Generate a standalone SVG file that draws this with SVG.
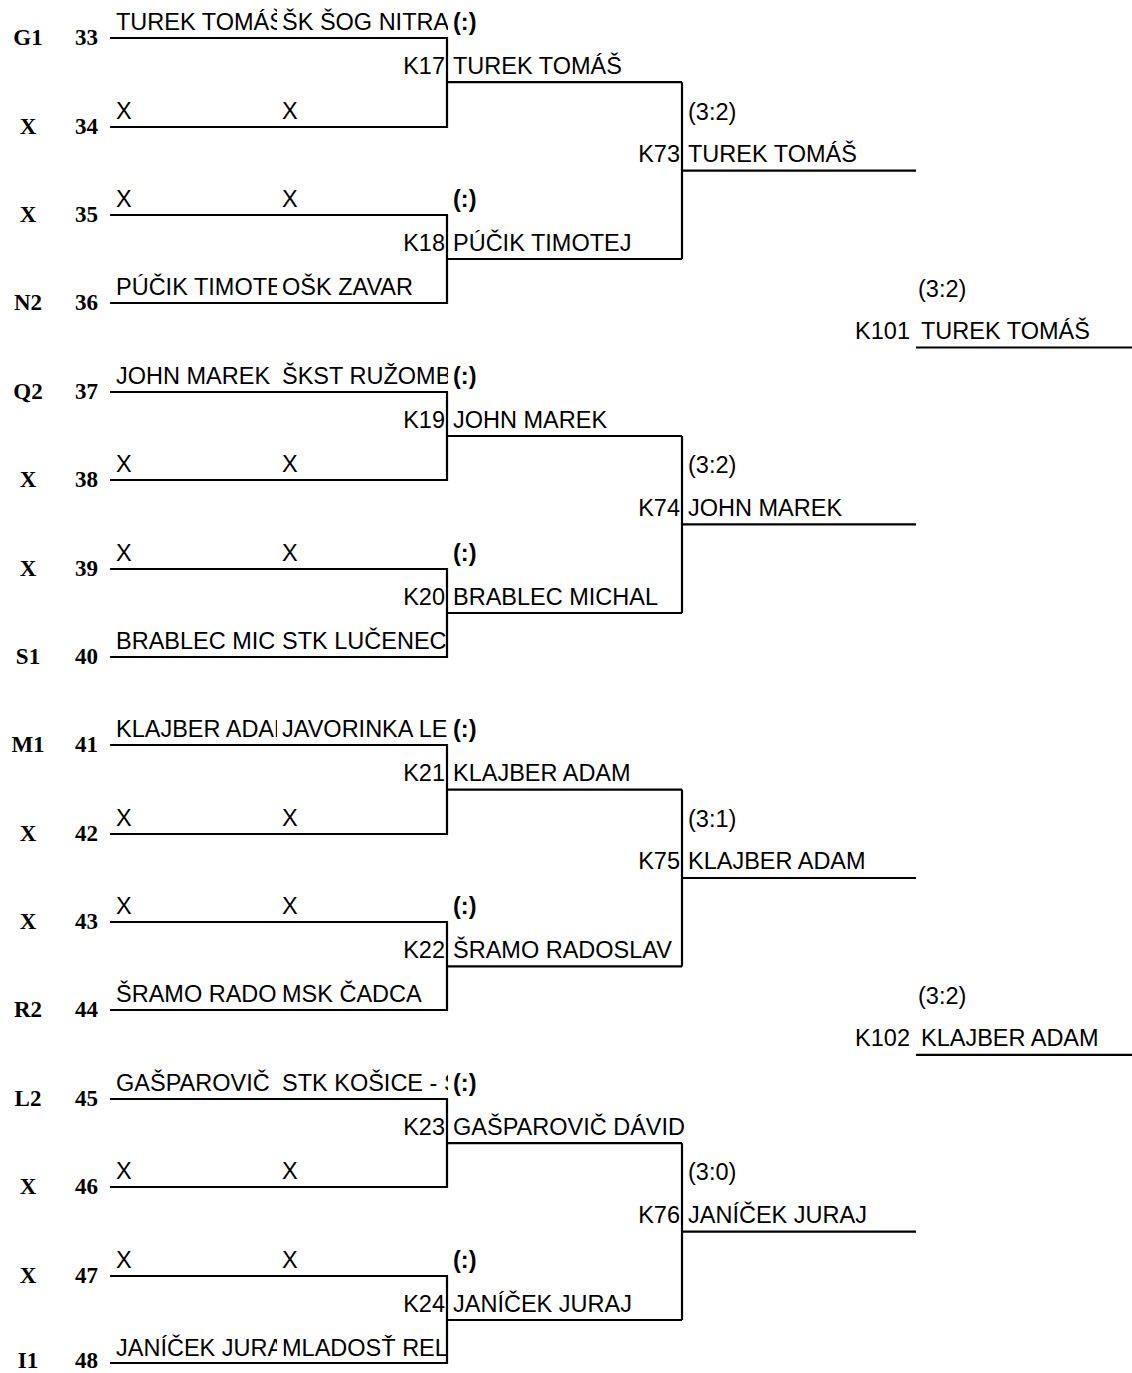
<svg xmlns="http://www.w3.org/2000/svg" width="1132" height="1373" viewBox="0 0 1132 1373">
<style>
.ln{stroke:#000;stroke-width:2.2;fill:none}
.t{font-family:"Liberation Sans",Arial,sans-serif;font-size:23.5px;fill:#000}
.b{font-family:"Liberation Sans",Arial,sans-serif;font-size:23.5px;font-weight:bold;fill:#000}
.k{font-family:"Liberation Sans",Arial,sans-serif;font-size:23.5px;fill:#000;text-anchor:end}
.s{font-family:"Liberation Serif","Times New Roman",serif;font-size:23px;font-weight:bold;fill:#000}
.c{text-anchor:middle}
.e{text-anchor:end}
</style>
<defs>
<clipPath id="c1"><rect x="110" y="0" width="167" height="1373"/></clipPath>
<clipPath id="c2"><rect x="280" y="0" width="168" height="1373"/></clipPath>
</defs>
<rect width="1132" height="1373" fill="#fff"/>
<g id="connectors">
<path class="ln" d="M110 38H447V127H110M447 82.2H682M110 215H447V303H110M447 259H682M682 82.2V259M682 170.6H916"/>
<path class="ln" d="M110 392H447V480H110M447 436H682M110 569H447V657H110M447 613H682M682 436V613M682 524.4H916"/>
<path class="ln" d="M110 745H447V834H110M447 789.6H682M110 922H447V1010H110M447 966.4H682M682 789.6V966.4M682 878H916"/>
<path class="ln" d="M110 1099H447V1187H110M447 1143.2H682M110 1276H447V1363H110M447 1320H682M682 1143.2V1320M682 1231.6H916"/>
<path class="ln" d="M916 347.5H1132M916 1054.8H1132"/>
</g>
<g id="seeds">
<text class="s c" x="28" y="45">G1</text><text class="s e" x="98" y="45">33</text>
<text class="s c" x="28" y="134">X</text><text class="s e" x="98" y="134">34</text>
<text class="s c" x="28" y="222">X</text><text class="s e" x="98" y="222">35</text>
<text class="s c" x="28" y="310">N2</text><text class="s e" x="98" y="310">36</text>
<text class="s c" x="28" y="399">Q2</text><text class="s e" x="98" y="399">37</text>
<text class="s c" x="28" y="487">X</text><text class="s e" x="98" y="487">38</text>
<text class="s c" x="28" y="576">X</text><text class="s e" x="98" y="576">39</text>
<text class="s c" x="28" y="664">S1</text><text class="s e" x="98" y="664">40</text>
<text class="s c" x="28" y="752">M1</text><text class="s e" x="98" y="752">41</text>
<text class="s c" x="28" y="841">X</text><text class="s e" x="98" y="841">42</text>
<text class="s c" x="28" y="929">X</text><text class="s e" x="98" y="929">43</text>
<text class="s c" x="28" y="1017">R2</text><text class="s e" x="98" y="1017">44</text>
<text class="s c" x="28" y="1106">L2</text><text class="s e" x="98" y="1106">45</text>
<text class="s c" x="28" y="1194">X</text><text class="s e" x="98" y="1194">46</text>
<text class="s c" x="28" y="1283">X</text><text class="s e" x="98" y="1283">47</text>
<text class="s c" x="28" y="1368">I1</text><text class="s e" x="98" y="1368">48</text>
</g>
<g id="players" clip-path="url(#c1)">
<text class="t" x="116" y="30">TUREK TOMÁŠ</text>
<text class="t" x="116" y="119">X</text>
<text class="t" x="116" y="207">X</text>
<text class="t" x="116" y="295">PÚČIK TIMOTEJ</text>
<text class="t" x="116" y="384">JOHN MAREK</text>
<text class="t" x="116" y="472">X</text>
<text class="t" x="116" y="561">X</text>
<text class="t" x="116" y="649">BRABLEC MICHAL</text>
<text class="t" x="116" y="737">KLAJBER ADAM</text>
<text class="t" x="116" y="826">X</text>
<text class="t" x="116" y="914">X</text>
<text class="t" x="116" y="1002">ŠRAMO RADOSLAV</text>
<text class="t" x="116" y="1091">GAŠPAROVIČ DÁVID</text>
<text class="t" x="116" y="1179">X</text>
<text class="t" x="116" y="1268">X</text>
<text class="t" x="116" y="1356">JANÍČEK JURAJ</text>
</g>
<g id="clubs" clip-path="url(#c2)">
<text class="t" x="282" y="30">ŠK ŠOG NITRA</text>
<text class="t" x="282" y="119">X</text>
<text class="t" x="282" y="207">X</text>
<text class="t" x="282" y="295">OŠK ZAVAR</text>
<text class="t" x="282" y="384">ŠKST RUŽOMB</text>
<text class="t" x="282" y="472">X</text>
<text class="t" x="282" y="561">X</text>
<text class="t" x="282" y="649">STK LUČENEC</text>
<text class="t" x="282" y="737">JAVORINKA LE</text>
<text class="t" x="282" y="826">X</text>
<text class="t" x="282" y="914">X</text>
<text class="t" x="282" y="1002">MSK ČADCA</text>
<text class="t" x="282" y="1091">STK KOŠICE - Š</text>
<text class="t" x="282" y="1179">X</text>
<text class="t" x="282" y="1268">X</text>
<text class="t" x="282" y="1356">MLADOSŤ REL</text>
</g>
<g id="round2">
<text class="b" x="453" y="30">(:)</text>
<text class="k" x="445" y="74">K17</text><text class="t" x="453" y="74">TUREK TOMÁŠ</text>
<text class="b" x="453" y="207">(:)</text>
<text class="k" x="445" y="251">K18</text><text class="t" x="453" y="251">PÚČIK TIMOTEJ</text>
<text class="b" x="453" y="384">(:)</text>
<text class="k" x="445" y="428">K19</text><text class="t" x="453" y="428">JOHN MAREK</text>
<text class="b" x="453" y="561">(:)</text>
<text class="k" x="445" y="605">K20</text><text class="t" x="453" y="605">BRABLEC MICHAL</text>
<text class="b" x="453" y="737">(:)</text>
<text class="k" x="445" y="781">K21</text><text class="t" x="453" y="781">KLAJBER ADAM</text>
<text class="b" x="453" y="914">(:)</text>
<text class="k" x="445" y="958">K22</text><text class="t" x="453" y="958">ŠRAMO RADOSLAV</text>
<text class="b" x="453" y="1091">(:)</text>
<text class="k" x="445" y="1135">K23</text><text class="t" x="453" y="1135">GAŠPAROVIČ DÁVID</text>
<text class="b" x="453" y="1268">(:)</text>
<text class="k" x="445" y="1312">K24</text><text class="t" x="453" y="1312">JANÍČEK JURAJ</text>
</g>
<g id="round3">
<text class="t" x="688" y="120">(3:2)</text>
<text class="k" x="680" y="162">K73</text><text class="t" x="688" y="162">TUREK TOMÁŠ</text>
<text class="t" x="688" y="473">(3:2)</text>
<text class="k" x="680" y="516">K74</text><text class="t" x="688" y="516">JOHN MAREK</text>
<text class="t" x="688" y="827">(3:1)</text>
<text class="k" x="680" y="869">K75</text><text class="t" x="688" y="869">KLAJBER ADAM</text>
<text class="t" x="688" y="1180">(3:0)</text>
<text class="k" x="680" y="1223">K76</text><text class="t" x="688" y="1223">JANÍČEK JURAJ</text>
</g>
<g id="final">
<text class="t" x="918" y="297">(3:2)</text>
<text class="k" x="910" y="339">K101</text><text class="t" x="921" y="339">TUREK TOMÁŠ</text>
<text class="t" x="918" y="1004">(3:2)</text>
<text class="k" x="910" y="1046">K102</text><text class="t" x="921" y="1046">KLAJBER ADAM</text>
</g>
</svg>
